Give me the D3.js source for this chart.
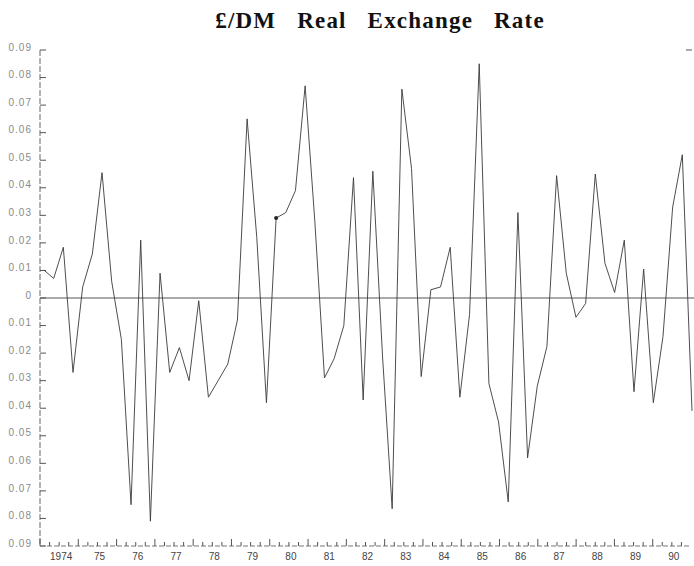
<!DOCTYPE html>
<html>
<head>
<meta charset="utf-8">
<script src="https://cdn.jsdelivr.net/npm/d3@7"></script>
<style>
  body { margin: 0; background: #fff; }
  .tickLabel { font-family: "Liberation Sans", "DejaVu Sans", sans-serif; font-size: 10px; fill: #8a8a8a; letter-spacing: 1px; }
  .yearLabel { font-family: "Liberation Sans", "DejaVu Sans", sans-serif; font-size: 10px; fill: #444; }
</style>
</head>
<body>
<div id="chart"></div>
<script>
var svgWidth = 694;
var svgHeight = 566;

// quarterly observations, 1974 Q1 .. 1990 Q4
var quarters = d3.range(68);
var rateValues = [
    0.0101, 0.0071, 0.0184, -0.027, 0.004, 0.016, 0.0455, 0.006,
    -0.015, -0.075, 0.021, -0.081, 0.009, -0.027, -0.018, -0.030,
    -0.001, -0.036, -0.030, -0.024, -0.008, 0.065, 0.022, -0.038,
    0.029, 0.031, 0.039, 0.077, 0.028, -0.029, -0.022, -0.010,
    0.0437, -0.037, 0.046, -0.021, -0.0765, 0.0758, 0.047, -0.0285,
    0.003, 0.004, 0.0184, -0.036, -0.006, 0.085, -0.031, -0.045,
    -0.074, 0.031, -0.058, -0.032, -0.0176, 0.0444, 0.009, -0.007,
    -0.002, 0.045, 0.0126, 0.002, 0.021, -0.034, 0.0105, -0.038,
    -0.014, 0.033, 0.052, -0.041
];

// tick labels as printed
var yTicks = [0.09, 0.08, 0.07, 0.06, 0.05, 0.04, 0.03, 0.02, 0.01, 0,
    -0.01, -0.02, -0.03, -0.04, -0.05, -0.06, -0.07, -0.08, -0.09];
var yearLabels = ["1974", "75", "76", "77", "78", "79", "80", "81", "82",
    "83", "84", "85", "86", "87", "88", "89", "90"];

var svg = d3.select("#chart")
    .append("svg")
    .attr("width", svgWidth)
    .attr("height", svgHeight);

var axisLeftX = 40;
var axisRightX = 691;

var xScale = d3.scaleLinear()
    .domain([0, 67])
    .range([44, 692]);

// years along the bottom axis
var yearScale = d3.scaleBand()
    .domain(yearLabels)
    .range([axisLeftX, axisRightX]);

var yScale = d3.scaleLinear()
    .domain([-0.09, 0.09])
    .range([546, 50]);

// title
svg.append("text")
    .attr("x", 380)
    .attr("y", 28)
    .attr("text-anchor", "middle")
    .style("font-family", "'Liberation Serif', 'DejaVu Serif', serif")
    .style("font-weight", "bold")
    .style("font-size", "23px")
    .style("letter-spacing", "1.2px")
    .style("word-spacing", "14px")
    .attr("fill", "#111")
    .text("£/DM Real Exchange Rate");

// left axis line with inward ticks
svg.append("line")
    .attr("x1", axisLeftX).attr("x2", axisLeftX)
    .attr("y1", yScale(0.09)).attr("y2", yScale(-0.09))
    .attr("stroke", "#666")
    .attr("stroke-width", 1)
    .attr("stroke-dasharray", "6,2");

svg.selectAll(".yTick")
    .data(yTicks)
    .enter()
    .append("line")
    .attr("class", "yTick")
    .attr("x1", axisLeftX)
    .attr("x2", axisLeftX + 6)
    .attr("y1", d => yScale(d))
    .attr("y2", d => yScale(d))
    .attr("stroke", "#555");

svg.selectAll(".yLabel")
    .data(yTicks)
    .enter()
    .append("text")
    .attr("class", "tickLabel")
    .attr("x", 32)
    .attr("y", d => yScale(d) - 2)
    .attr("text-anchor", "end")
    .attr("dominant-baseline", "middle")
    .text(d => d === 0 ? "0" : d3.format(".2f")(Math.abs(d)));

// right axis stub at the top
svg.append("line")
    .attr("x1", 686).attr("x2", 692)
    .attr("y1", yScale(0.09)).attr("y2", yScale(0.09))
    .attr("stroke", "#555");

// bottom axis with quarterly ticks
svg.append("line")
    .attr("x1", axisLeftX).attr("x2", axisRightX)
    .attr("y1", yScale(-0.09)).attr("y2", yScale(-0.09))
    .attr("stroke", "#777")
    .attr("stroke-dasharray", "5,2");

var quarterTicks = [];
yearLabels.forEach(function (y) {
    for (var q = 0; q < 4; q++) {
        quarterTicks.push({ x: yearScale(y) + q * yearScale.bandwidth() / 4, major: q === 0 });
    }
});

svg.selectAll(".xTick")
    .data(quarterTicks)
    .enter()
    .append("line")
    .attr("class", "xTick")
    .attr("x1", d => d.x)
    .attr("x2", d => d.x)
    .attr("y1", yScale(-0.09))
    .attr("y2", d => yScale(-0.09) - (d.major ? 7 : 4))
    .attr("stroke", "#555");

svg.selectAll(".yearLabel")
    .data(yearLabels)
    .enter()
    .append("text")
    .attr("class", "yearLabel")
    .attr("x", d => yearScale(d) + yearScale.bandwidth() / 2 + 2)
    .attr("y", yScale(-0.09) + 14)
    .attr("text-anchor", "middle")
    .text(d => d);

// zero line
svg.append("line")
    .attr("x1", axisLeftX).attr("x2", 694)
    .attr("y1", yScale(0)).attr("y2", yScale(0))
    .attr("stroke", "#555")
    .attr("stroke-width", 1);

// the series
var line = d3.line()
    .x((d, i) => xScale(i))
    .y(d => yScale(d));

svg.append("path")
    .datum(rateValues)
    .attr("d", line)
    .attr("fill", "none")
    .attr("stroke", "#3a3a3a")
    .attr("stroke-width", 0.9);

// small blot on the 1979 point
svg.append("circle")
    .attr("cx", xScale(24))
    .attr("cy", yScale(rateValues[24]))
    .attr("r", 2)
    .attr("fill", "#222");
</script>
</body>
</html>
